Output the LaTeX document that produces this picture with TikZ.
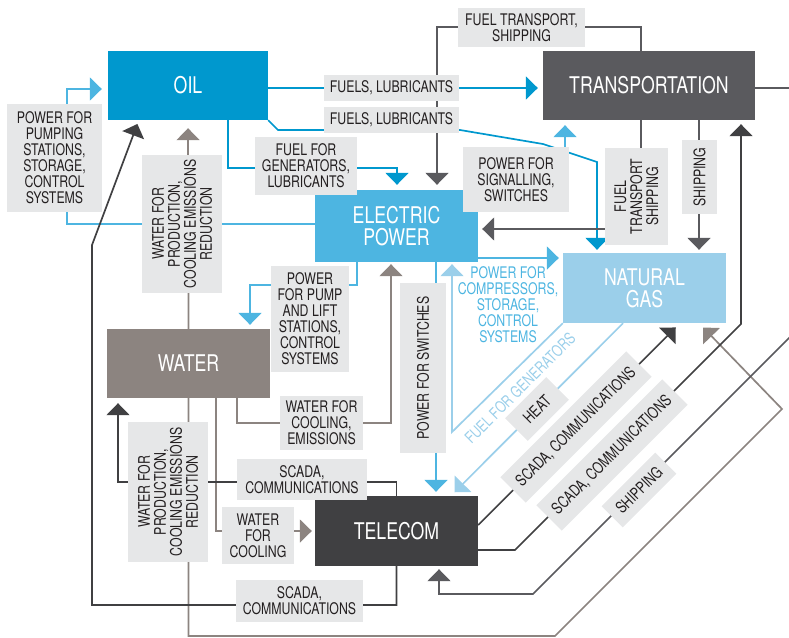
\documentclass[tikz,border=0pt]{standalone}
\usepackage{fontspec}
\setmainfont{TeX Gyre Heros}[FakeStretch=0.77]
\usepackage{tikz}
\usetikzlibrary{arrows.meta, positioning, backgrounds}

\definecolor{oilc}{HTML}{0098CE}
\definecolor{epc}{HTML}{4DB5E1}
\definecolor{ngc}{HTML}{9BCFEA}
\definecolor{watc}{HTML}{8C8480}
\definecolor{trc}{HTML}{5A5A5E}
\definecolor{telc}{HTML}{404042}
\definecolor{lblc}{HTML}{E6E7E8}
\definecolor{txtc}{HTML}{231F20}

\begin{document}
\begin{tikzpicture}[
    x=1pt, y=-1pt,
    sector/.style={fill=#1, text=white, minimum width=163pt, minimum height=70pt, inner sep=0pt, align=center, font=\fontsize{23}{22}\selectfont},
    lbl/.style={fill=lblc, text=txtc, inner sep=0pt, align=center, font=\fontsize{16}{16}\selectfont},
    flowtxt/.style={text=#1, inner sep=0pt, align=center, font=\fontsize{16}{16}\selectfont},
    ln/.style={draw=#1, line width=1.7pt},
    arrow/.style={-{Triangle[width=23pt, length=12pt]}, shorten >=#1},
    arrow/.default=4pt
]
    \useasboundingbox (0,0) rectangle (789,637);

    % Sectors
    \node[sector=oilc, minimum width=160pt, minimum height=69pt] (oil) at (188,85.5) {OIL};
    \node[sector=trc, minimum width=212pt, minimum height=69pt] (trans) at (649,85.5) {TRANSPORTATION};
    \node[sector=epc, minimum height=72pt] (ep) at (396.5,226) {ELECTRIC\\POWER};
    \node[sector=ngc] (ng) at (644.5,288) {NATURAL\\GAS};
    \node[sector=watc, minimum height=69pt] (water) at (188.5,363.5) {WATER};
    \node[sector=telc] (tel) at (396.5,531) {TELECOM};

    % Labels
    \node[lbl, minimum width=95pt, minimum height=108pt] (lPump) at (54.5,158) {POWER FOR\\PUMPING\\STATIONS,\\STORAGE,\\CONTROL\\SYSTEMS};
    \node[lbl, rotate=90, minimum width=138pt, minimum height=80pt] (lWprodA) at (182,224) {WATER FOR\\PRODUCTION,\\COOLING EMISSIONS\\REDUCTION};
    \node[lbl, minimum width=102pt, minimum height=58pt] (lFgen) at (306,166) {FUEL FOR\\GENERATORS,\\LUBRICANTS};
    \node[lbl, minimum width=135pt, minimum height=26pt] (lFuelA) at (391.5,88) {FUELS, LUBRICANTS};
    \node[lbl, minimum width=135pt, minimum height=26pt] (lFuelB) at (391.5,120) {FUELS, LUBRICANTS};
    \node[lbl, minimum width=127pt, minimum height=39pt] (lFts) at (521.5,27.5) {FUEL TRANSPORT,\\SHIPPING};
    \node[lbl, minimum width=106pt, minimum height=65pt] (lSig) at (516,179.5) {POWER FOR\\SIGNALLING,\\SWITCHES};
    \node[lbl, rotate=90, minimum width=97pt, minimum height=63pt] (lFtsV) at (636.5,196.5) {FUEL\\TRANSPORT\\SHIPPING};
    \node[lbl, rotate=90, minimum width=74pt, minimum height=35pt] (lShipV) at (699.5,177) {SHIPPING};
    \node[lbl, minimum width=78pt, minimum height=106pt] (lLift) at (310,319) {POWER\\FOR PUMP\\AND LIFT\\STATIONS,\\CONTROL\\SYSTEMS};
    \node[lbl, rotate=90, minimum width=170pt, minimum height=46pt] (lSwitch) at (423,368) {POWER FOR SWITCHES};
    \node[flowtxt=epc] (lComp) at (508,305) {POWER FOR\\COMPRESSORS,\\STORAGE,\\CONTROL\\SYSTEMS};
    \node[lbl, minimum width=83pt, minimum height=54pt] (lWcool) at (321.5,423) {WATER FOR\\COOLING,\\EMISSIONS};
    \node[lbl, minimum width=130pt, minimum height=41pt] (lScadaA) at (302,479.5) {SCADA,\\COMMUNICATIONS};
    \node[lbl, rotate=90, minimum width=140pt, minimum height=80pt] (lWprodB) at (168,492) {WATER FOR\\PRODUCTION,\\COOLING EMISSIONS\\REDUCTION};
    \node[lbl, minimum width=72pt, minimum height=57pt] (lWcoolB) at (258,535.5) {WATER\\FOR\\COOLING};
    \node[lbl, minimum width=127pt, minimum height=42pt] (lScadaB) at (299.5,601) {SCADA,\\COMMUNICATIONS};

    % Diagonal labels
    \node[flowtxt=ngc, rotate=45] (lFgenD) at (520,388) {FUEL FOR GENERATORS};
    \node[lbl, rotate=45, minimum width=58pt, minimum height=32pt] (lHeat) at (537,409) {HEAT};
    \node[lbl, rotate=45, minimum width=178pt, minimum height=36pt] (lScadaC) at (576,427) {SCADA, COMMUNICATIONS};
    \node[lbl, rotate=45, minimum width=178pt, minimum height=36pt] (lScadaD) at (612,455) {SCADA, COMMUNICATIONS};
    \node[lbl, rotate=45, minimum width=76pt, minimum height=30pt] (lShip) at (639,490) {SHIPPING};

    % Connections
    \begin{scope}[on background layer]
    \clip (0,0) rectangle (789,637);
    % electric power
    \draw[ln=epc, arrow=6pt] (ep.west |- 0,224) -| (67,89) -- (oil.west |- 0,89);
    \draw[ln=epc, arrow=4pt] (ep.south -| 357,0) |- (250,285) -- (water.north -| 250,0);
    \draw[ln=epc, arrow=4pt] (ep.south -| 436,0) -- (tel.north -| 436,0);
    \draw[ln=epc, arrow=4pt] (ep.east |- 0,258) -- (ng.west |- 0,258);
    \draw[ln=epc, arrow=5pt] (ep.east |- 0,200) -| (trans.south -| 565,0);
    % oil
    \draw[ln=oilc, arrow=5pt] (oil.east |- 0,88) -- (trans.west |- 0,88);
    \draw[ln=oilc, arrow=3pt] (oil.south east) -- (278,130) -- (460,130) -- (543,144) -- (597,162) -- (ng.north -| 597,0);
    \draw[ln=oilc, arrow=5pt] (oil.south -| 228,0) |- (397,168) -- (ep.north -| 397,0);
    % natural gas
    \draw[ln=ngc, arrow=2pt] (ng.south west) -- (452,432) -- (ep.south -| 452,0);
    \draw[ln=ngc, arrow=5pt] (ng.south -| 623,0) -- (tel.north -| 451,0);
    % water
    \draw[ln=watc, arrow=8pt] (water.north) -- (oil.south);
    \draw[ln=watc, arrow=2pt] (water.south -| 237,0) |- (lWcool.west) -- (lWcool.east) -| (ep.south -| 391,0);
    \draw[ln=watc, arrow=3pt] (water.south -| 216,0) |- (tel.west);
    \draw[ln=watc, arrow=6pt] (water.south) -- (188.5,636) -- (555,636) -- (782,409) -- (ng.south -| 699,0);
    % transportation
    \draw[ln=trc, arrow=5pt] (trans.north -| 641,0) |- (437,27) -- (ep.north -| 437,0);
    \draw[ln=trc, arrow=4pt] (trans.south -| 641,0) |- (ep.east |- 0,229);
    \draw[ln=trc, arrow=3pt] (trans.south -| 699,0) -- (ng.north -| 699,0);
    \draw[ln=trc, arrow=3pt] (trans.east |- 0,88) -- (800,88) -- (800,327) -- (533,594) -| (tel.south -| 439,0);
    % telecom
    \draw[ln=telc, arrow=4pt] (tel.south) |- (92,605) -- (92,245) -- ([xshift=31pt]oil.south west);
    \draw[ln=telc, arrow=5pt] (tel.north) |- (118,482) -- (water.south -| 118,0);
    \draw[ln=telc, arrow=6pt] (tel.east |- 0,525) -- (ng.south -| 680,0);
    \draw[ln=telc, arrow=4pt] (tel.east |- 0,550) -- (515,550) -- (741,324) -- (trans.south -| 741,0);
    \end{scope}
\end{tikzpicture}
\end{document}
